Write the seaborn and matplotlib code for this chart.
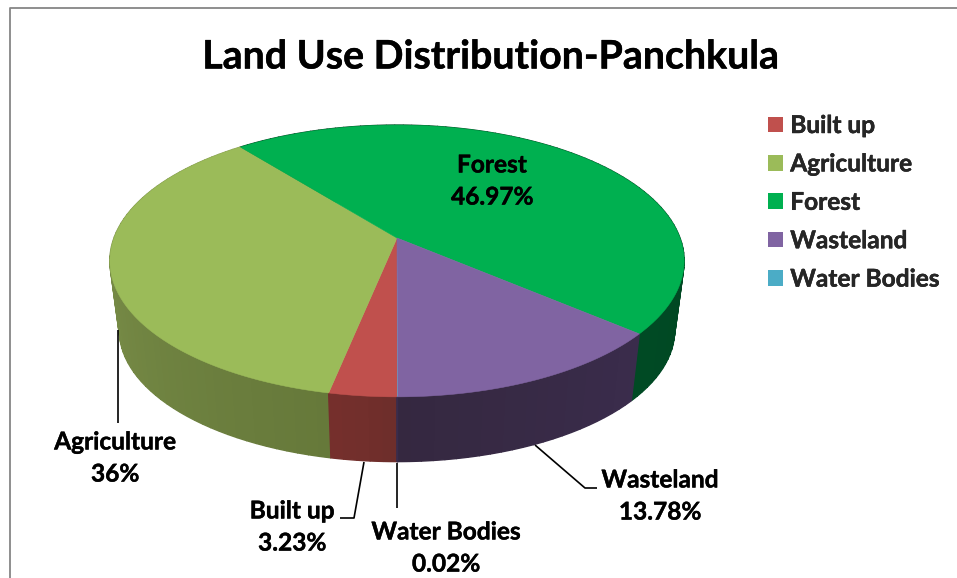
import numpy as np
import matplotlib
matplotlib.use("Agg")
import matplotlib.pyplot as plt
import matplotlib.patheffects as pe
import seaborn as sns
from matplotlib.patches import Patch

# Datos del grafico
categorias = ["Built up", "Agriculture", "Forest", "Wasteland", "Water Bodies"]
valores = [3.23, 36, 46.97, 13.78, 0.02]
etiquetas = ["3.23%", "36%", "46.97%", "13.78%", "0.02%"]

colores = ["#C0504D", "#9BBB59", "#00B050", "#8064A2", "#4BACC6"]
# Colores de la pared lateral (inicio y fin de cada porcion, sentido horario)
pared_ini = ["#6E2E2B", "#66793A", "#003D1D", "#3A2C4C", "#3A2C4C"]
pared_fin = ["#752F2C", "#879C52", "#004A24", "#352840", "#3A2C4C"]

sns.set_theme(style="white")
plt.rcParams["font.family"] = ["Lato", "DejaVu Sans"]

# Geometria de la perspectiva (en pixeles de la imagen)
CX, CY = 397, 238
A, B, K = 283, 132, 0.169
ESCALA_BASE, BAJADA = 0.967, 70
GROSOR = [pe.withStroke(linewidth=0.3, foreground="black")]


def proyectar(theta, r=1.0, base=False):
    # theta: grados desde abajo, en sentido horario
    t = np.radians(theta)
    x = -r * np.sin(t)
    v = r * np.cos(t)
    w = 1 - K * v
    px, py = A * x / w, B * v / w
    if base:
        return CX + ESCALA_BASE * px, CY + BAJADA + ESCALA_BASE * py
    return CX + px, CY + py


fig, ax = plt.subplots(figsize=(9.57, 5.78), dpi=100)
fig.subplots_adjust(0, 0, 1, 1)
ax.set_xlim(0, 957)
ax.set_ylim(578, 0)
ax.axis("off")

limites = np.concatenate([[0], np.cumsum(valores)]) / np.sum(valores) * 360

# Pared lateral: tiras de atras hacia adelante, con un poco de solape
tiras = []
for i in range(len(valores)):
    n = max(2, int((limites[i + 1] - limites[i]) / 2))
    angulos = np.linspace(limites[i], limites[i + 1], n + 1)
    paleta = sns.blend_palette([pared_ini[i], pared_fin[i]], n)
    for j in range(n):
        tiras.append((angulos[j], angulos[j + 1], paleta[j]))
for t0, t1, color in sorted(tiras, key=lambda s: np.cos(np.radians((s[0] + s[1]) / 2))):
    arco = np.linspace(t0, t1, 6)
    xa, ya = proyectar(arco)
    xb, yb = proyectar(arco[::-1], base=True)
    ax.fill(np.r_[xa, xb], np.r_[ya, yb], color=color, lw=1.0, zorder=2)

# Cara superior
for i in range(len(valores)):
    arco = np.linspace(limites[i], limites[i + 1], 200)
    xa, ya = proyectar(arco)
    ax.fill(np.r_[CX, xa], np.r_[CY, ya], color=colores[i],
            lw=0.4 if valores[i] > 1 else 0, zorder=3)

# Marco
ax.plot([10, 10, 957], [578, 8, 8], color="#868686", lw=1.3, zorder=1, clip_on=False)

# Titulo
ax.text(490, 57, "Land Use Distribution-Panchkula", ha="center", va="center",
        fontsize=28.3, fontweight="bold", color="black", zorder=5, path_effects=GROSOR)

# Lineas guia
guias = [
    ([364, 354, 340], [462, 518, 518]),
    ([118, 118], [330, 423]),
    ([535, 585, 597], [445, 488, 488]),
    ([397, 397], [463, 508]),
]
for gx, gy in guias:
    ax.plot(gx, gy, color="black", lw=1.2, zorder=4, solid_capstyle="butt")

# Etiquetas de datos
pos_etiquetas = [(292, 527), (115, 458), (492, 181), (660, 496), (446, 548)]
for nombre, texto, (ex, ey) in zip(categorias, etiquetas, pos_etiquetas):
    ax.text(ex, ey, f"{nombre}\n{texto}", ha="center", va="center", fontsize=17.6,
            fontweight="bold", color="black", linespacing=1.48, zorder=6, path_effects=GROSOR)

# Leyenda
manejadores = [Patch(facecolor=c, edgecolor="none") for c in colores]
ley = ax.legend(manejadores, categorias, loc="upper left", bbox_to_anchor=(768 / 957, 1 - 114 / 578),
                frameon=False, handlelength=0.61, handleheight=0.61, handletextpad=0.3,
                labelspacing=0.63, borderpad=0, borderaxespad=0,
                prop={"family": "Lato", "weight": "bold", "size": 17.6})
for t in ley.get_texts():
    t.set_path_effects(GROSOR)

plt.savefig("out.png", dpi=100)
